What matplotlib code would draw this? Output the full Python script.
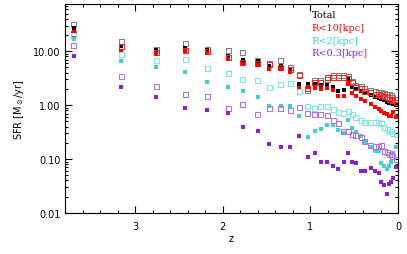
import numpy as np
import matplotlib
matplotlib.use("Agg")
import matplotlib.pyplot as plt
from matplotlib.ticker import FixedLocator, MultipleLocator, LogLocator, NullFormatter

# redshift sampling (shared by all series)
z = [3.70, 3.16, 2.76, 2.43, 2.18, 1.94, 1.77, 1.60, 1.47, 1.34, 1.23, 1.13,
     1.03, 0.95, 0.88, 0.81, 0.74, 0.68, 0.62, 0.57, 0.52, 0.48, 0.42, 0.38,
     0.31, 0.26, 0.22, 0.19, 0.16, 0.125, 0.10, 0.08, 0.06, 0.02]

# Total
total_fill = [27, 12.4, 10.4, 11.4, 10.5, 8.1, 6.8, 6.5, 5.3, 5.3, 4.4, 2.5,
              2.5, 2.5, 2.4, 2.4, 2.2, 1.8, 1.9, 3.0, 2.2, 2.0, 1.8, 1.7,
              1.53, 1.4, 1.35, 1.3, 1.24, 1.14, 1.12, 1.09, 1.05, 1.0]
total_open = [31.6, 15.4, 10.8, 14, 11, 10.4, 9.6, 6.8, 6.0, 6.8, 5.0, 3.7,
              1.9, 2.9, 2.9, 3.0, 3.6, 3.6, 3.5, 3.4, 2.8, 2.3, 2.2, 2.0,
              1.9, 1.8, 1.75, 1.7, 1.65, 1.6, 1.55, 1.5, 1.4, 1.3]

# R < 10 kpc
r10_fill = [23, 10, 8.8, 10, 9.2, 7.1, 5.7, 5.5, 4.6, 4.6, 4.1, 2.1,
            2.2, 2.1, 2.0, 2.1, 1.9, 1.5, 1.5, 2.5, 1.7, 1.5, 1.3, 1.2,
            1.05, 0.92, 0.85, 0.77, 0.72, 0.68, 0.63, 0.63, 0.74, 0.6]
r10_open = [21, 12, 9.5, 10.5, 10, 7.8, 6.2, 6.0, 5.7, 5.0, 4.6, 3.6,
            2.0, 2.6, 2.6, 3.2, 3.3, 3.3, 3.2, 3.1, 2.6, 2.1, 2.0, 1.8,
            1.7, 1.6, 1.55, 1.5, 1.45, 1.4, 1.3, 1.25, 1.2, 1.1]

# R < 2 kpc
r2_fill = [16.6, 6.5, 5.1, 4.1, 2.7, 2.2, 1.8, 1.4, 0.96, 0.96, 0.96, 0.63,
           0.26, 0.33, 0.36, 0.43, 0.43, 0.34, 0.31, 0.53, 0.37, 0.32, 0.27, 0.21,
           0.17, 0.14, 0.14, 0.085, 0.074, 0.065, 0.074, 0.088, 0.13, 0.17]
r2_open = [20, 8.8, 6.8, 7.0, 4.8, 3.9, 3.0, 2.9, 2.1, 2.4, 2.5, 1.8,
           0.96, 0.88, 0.96, 0.96, 0.84, 0.74, 0.71, 0.75, 0.68, 0.6, 0.53, 0.48,
           0.47, 0.48, 0.47, 0.45, 0.39, 0.36, 0.33, 0.32, 0.30, 0.29]

# R < 0.3 kpc
r03_fill = [8.0, 2.2, 1.4, 0.88, 0.81, 0.71, 0.39, 0.33, 0.19, 0.17, 0.17, 0.27,
            0.11, 0.13, 0.088, 0.088, 0.074, 0.065, 0.088, 0.13, 0.088, 0.085, 0.06, 0.06,
            0.068, 0.06, 0.055, 0.037, 0.033, 0.022, 0.035, 0.037, 0.045, 0.07]
r03_open = [12.9, 3.4, 2.2, 1.6, 1.47, 0.88, 1.04, 0.68, 0.88, 0.88, 0.78, 0.92,
            0.71, 0.68, 0.68, 0.63, 0.53, 0.45, 0.32, 0.32, 0.29, 0.27, 0.25, 0.21,
            0.18, 0.17, 0.17, 0.18, 0.14, 0.13, 0.12, 0.12, 0.11, 0.10]

labels = ['Total', 'R<10[kpc]', 'R<2[kpc]', 'R<0.3[kpc]']
colors = ['black', 'red', '#40d0d0', '#8a1fd6']
open_colors = ['#808080', '#ff2020', '#80e4e4', '#b070e8']

fig = plt.figure(figsize=(4.07, 2.55), dpi=100)
ax = fig.add_axes([0.16, 0.161, 0.818, 0.819])

series = [(total_open, total_fill), (r10_open, r10_fill),
          (r2_open, r2_fill), (r03_open, r03_fill)]
for i, (op, fi) in enumerate(series):
    ax.scatter(z, op, marker='s', s=13, facecolors='none',
               edgecolors=open_colors[i], linewidths=0.75, zorder=2 + 2 * i)
    ax.scatter(z, fi, marker='s', s=9, color=colors[i], linewidths=0,
               zorder=3 + 2 * i)

ax.set_yscale('log')
ax.set_xlim(3.8, 0)
ax.set_ylim(0.01, 75)

ax.yaxis.set_major_locator(FixedLocator([0.01, 0.1, 1, 10]))
ax.set_yticklabels(['0.01', '0.10', '1.00', '10.00'])
ax.yaxis.set_minor_locator(LogLocator(base=10, subs=np.arange(2, 10)))
ax.yaxis.set_minor_formatter(NullFormatter())
ax.xaxis.set_major_locator(FixedLocator([3, 2, 1, 0]))
ax.xaxis.set_minor_locator(MultipleLocator(0.2))

ax.tick_params(which='both', direction='in', top=True, right=True,
               labelsize=7, width=0.8)
ax.tick_params(which='major', length=5)
ax.tick_params(which='minor', length=2.5)
ax.tick_params(axis='x', pad=6)
for sp in ax.spines.values():
    sp.set_linewidth(0.8)

ax.set_xlabel('z', fontsize=7, labelpad=1)
ax.set_ylabel(r'SFR [M$_\odot$/yr]', fontsize=7, labelpad=5)

for i, lab in enumerate(labels):
    ax.text(0.74, 0.952 - i * 0.062, lab, color=colors[i], fontsize=7,
            family='DejaVu Serif', transform=ax.transAxes, va='center')

fig.savefig('out.png', dpi=100)
